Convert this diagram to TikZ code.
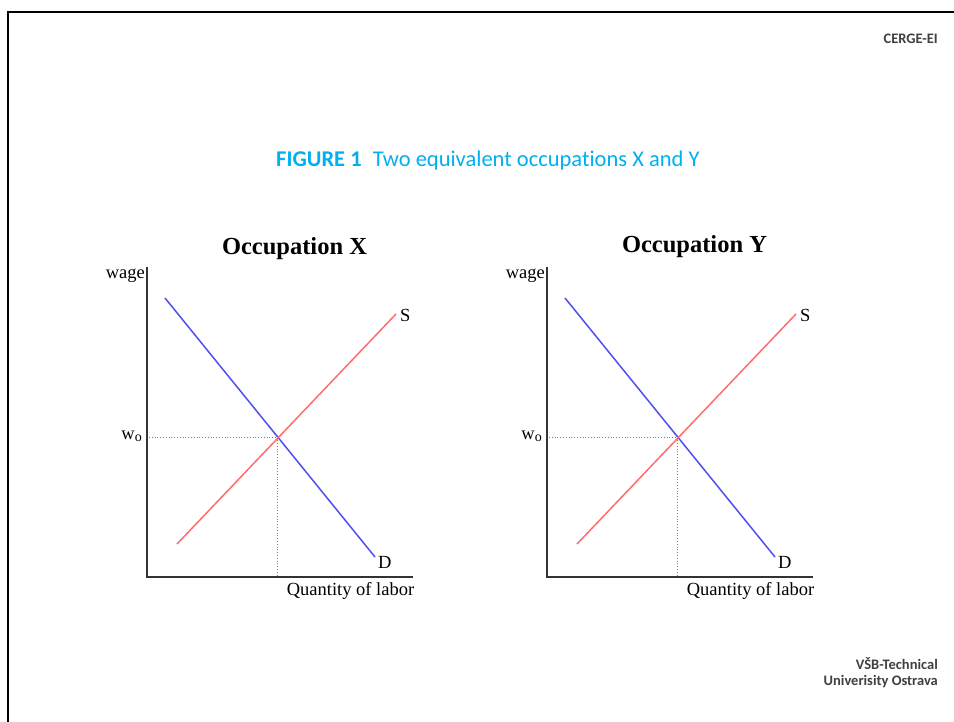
\documentclass[tikz,border=0pt]{standalone}
\usepackage{fontspec}
\setmainfont{Liberation Serif}
\newfontfamily\calibri[Ligatures=NoCommon]{Carlito}
\definecolor{titlecyan}{RGB}{0,176,240}
\definecolor{footgray}{RGB}{64,64,64}
\definecolor{demblue}{RGB}{80,80,240}
\definecolor{supred}{RGB}{255,110,110}
\begin{document}
\begin{tikzpicture}[x=1pt,y=-1pt,
  lbl/.style={inner sep=0pt, font=\fontsize{18.5}{20}\selectfont},
  axisline/.style={draw=black!80, line width=1.6pt},
  demline/.style={draw=demblue, line width=1.5pt},
  supline/.style={draw=supred, line width=1.5pt},
  guide/.style={draw=gray, dotted, line width=0.8pt},
  foot/.style={inner sep=0pt, font=\calibri\bfseries\fontsize{14.5}{15.5}\selectfont, text=footgray, align=right}]
\useasboundingbox (0,0) rectangle (954,722);
\fill[white] (0,0) rectangle (954,722);
% frame
\coordinate (fbl) at (8,723);
\coordinate (ftl) at (8,12);
\coordinate (ftr) at (955,12);
\draw[line width=2.2pt, black] (fbl) -- (ftl) -- (ftr);
% headers
\node[foot, anchor=base east] (cerge) at (938,44) {CERGE-EI};
\node[foot, anchor=base east] (vsb) at (938,685) {VŠB-Technical\\Univerisity Ostrava};
\node[inner sep=0pt, anchor=base west, text=titlecyan, font=\calibri\fontsize{22.5}{24}\selectfont] (title) at (276,167) {\textbf{FIGURE 1}\hspace{0.5em}Two equivalent occupations X and Y};
% panels
\foreach \dx/\nm/\ty in {0/X/255, 400/Y/253}{
  \begin{scope}[xshift=\dx pt]
    \coordinate (ytop\nm) at (147,267);
    \coordinate (orig\nm) at (147,577);
    \coordinate (xend\nm) at (413,577);
    \draw[axisline] (ytop\nm) -- (orig\nm) -- (xend\nm);
    \coordinate (d1\nm) at (165,298);
    \coordinate (d2\nm) at (375,557);
    \coordinate (s1\nm) at (177,544);
    \coordinate (s2\nm) at (396,314);
    \coordinate (eq\nm) at (277.5,437);
    \coordinate (wl\nm) at (149,437);
    \coordinate (ql\nm) at (277.5,576);
    \draw[guide] (wl\nm) -- (eq\nm) -- (ql\nm);
    \draw[demline] (d1\nm) -- (d2\nm);
    \draw[supline] (s1\nm) -- (s2\nm);
    \node[lbl, anchor=base east] (wage\nm) at (145,279) {wage};
    \node[lbl, anchor=base east] (w\nm) at (142,439) {w\raisebox{-0.3ex}{\fontsize{14}{14}\selectfont o}};
    \node[lbl, anchor=base west] (S\nm) at (400,322) {S};
    \node[lbl, anchor=base west] (D\nm) at (378,568) {D};
    \node[lbl, anchor=base] (q\nm) at (350.5,595) {Quantity of labor};
    \node[inner sep=0pt, anchor=base, font=\bfseries\fontsize{24.5}{26}\selectfont] (occ\nm) at (294.5,\ty) {Occupation \nm};
  \end{scope}
}
\end{tikzpicture}
\end{document}
